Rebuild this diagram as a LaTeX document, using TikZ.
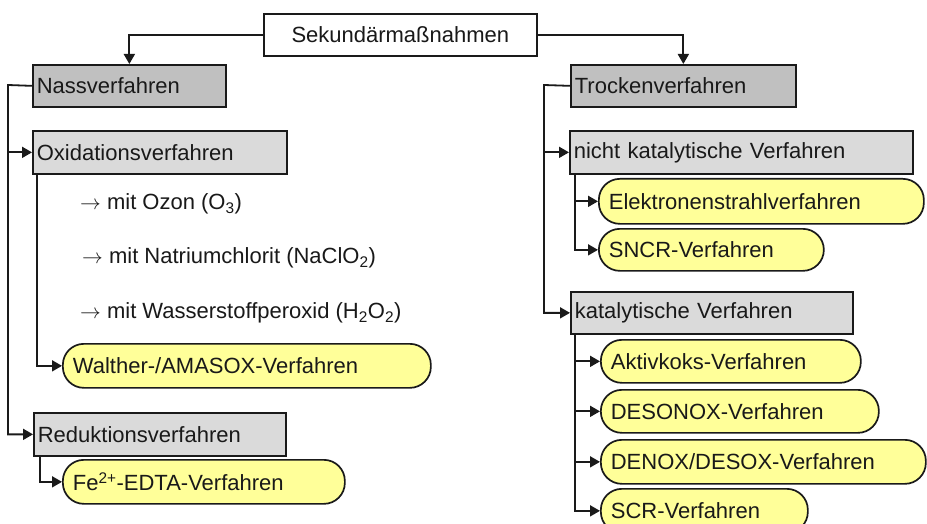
\documentclass[tikz,border=0pt]{standalone}
\usepackage{fontspec}
\setmainfont{Liberation Sans}
\usetikzlibrary{arrows.meta,calc}
\definecolor{ylw}{HTML}{FFFF99}
\definecolor{dgray}{HTML}{C0C0C0}
\definecolor{lgray}{HTML}{DADADA}
\definecolor{edge}{HTML}{1A1A1A}
\begin{document}
\begin{tikzpicture}[x=1pt,y=-1pt,
  every node/.style={font=\fontsize{22}{26}\selectfont, text=black!90},
  basebox/.style={draw=edge, line width=1.7pt, anchor=north west, inner ysep=0pt, align=left},
  topbox/.style={draw=edge, line width=1.7pt, anchor=north west, inner sep=0pt, fill=white, align=center},
  darkbox/.style={basebox, fill=dgray, inner xsep=4pt},
  lightbox/.style={basebox, fill=lgray, inner xsep=4pt},
  ybox/.style={basebox, fill=ylw, inner xsep=10pt, rounded corners=21pt},
  plain/.style={anchor=west, inner sep=0pt},
  conn/.style={draw=edge, line width=1.8pt},
  arr/.style={conn, -{Triangle[length=10pt,width=11pt]}}]
\useasboundingbox (0,0) rectangle (927,524);
\clip (0,0) rectangle (927,524);
\fill[white] (0,0) rectangle (927,524);

% top
\node[topbox, minimum width=273pt, minimum height=42pt] (sek) at (263,13) {Sekundärmaßnahmen};

% left column
\node[darkbox, text width=185pt, minimum height=42pt] (nass) at (32,64) {Nassverfahren};
\node[lightbox, text width=246pt, minimum height=43pt] (oxid) at (32,130) {Oxidationsverfahren};
\node[plain] (t1) at (80,204) {$\rightarrow$ mit Ozon (O\textsubscript{3})};
\node[plain] (t2) at (82,258) {$\rightarrow$ mit Natriumchlorit (NaClO\textsubscript{2})};
\node[plain] (t3) at (80,313) {$\rightarrow$ mit Wasserstoffperoxid (H\textsubscript{2}O\textsubscript{2})};
\node[ybox, text width=348pt, minimum height=44pt] (walt) at (62,343) {Walther-/AMASOX-Verfahren};
\node[lightbox, text width=244pt, minimum height=43pt] (red) at (33,412) {Reduktionsverfahren};
\node[ybox, text width=262pt, minimum height=44pt] (fe) at (62,459) {Fe\textsuperscript{2+}-EDTA-Verfahren};

% right column
\node[darkbox, text width=217pt, minimum height=42pt] (trock) at (570,64) {Trockenverfahren};
\node[lightbox, text width=335pt, minimum height=43pt] (nicht) at (569,130) {nicht katalytische Verfahren};
\node[ybox, text width=305pt, minimum height=45pt] (elek) at (598,178) {Elektronenstrahlverfahren};
\node[ybox, text width=205pt, minimum height=42pt] (sncr) at (598,228) {SNCR-Verfahren};
\node[lightbox, text width=274pt, minimum height=42pt] (kat) at (570,291) {katalytische Verfahren};
\node[ybox, text width=240pt, minimum height=43pt] (akt) at (600,339) {Aktivkoks-Verfahren};
\node[ybox, text width=258pt, minimum height=43pt] (deso) at (600,389) {DESONOX-Verfahren};
\node[ybox, text width=305pt, minimum height=44pt] (deno) at (600,439) {DENOX/DESOX-Verfahren};
\node[ybox, text width=187pt, minimum height=44pt] (scr) at (600,488) {SCR-Verfahren};

% top connectors
\draw[arr] (sek.west) -| (nass.north);
\draw[arr] (sek.east) -| (trock.north);

% left trunk
\coordinate (tl) at (8,85);
\draw[arr] (nass.west) -- (tl) |- (red.west);
\draw[arr] (tl |- oxid.west) -- (oxid.west);
\coordinate (so) at ($(oxid.south west)+(5,0)$);
\draw[arr] (so) |- (walt.west);
\coordinate (sr) at ($(red.south west)+(7,0)$);
\draw[arr] (sr) |- (fe.west);

% right trunk
\coordinate (tr) at (544,85);
\draw[arr] (trock.west) -- (tr) |- (kat.west);
\draw[arr] (tr |- nicht.west) -- (nicht.west);
\coordinate (sn) at ($(nicht.south west)+(6,0)$);
\draw[arr] (sn) |- (elek.west);
\draw[arr] (sn) |- (sncr.west);
\coordinate (sk) at ($(kat.south west)+(5,0)$);
\draw[arr] (sk) |- (akt.west);
\draw[arr] (sk) |- (deso.west);
\draw[arr] (sk) |- (deno.west);
\draw[arr] (sk) |- (scr.west);
\end{tikzpicture}
\end{document}
